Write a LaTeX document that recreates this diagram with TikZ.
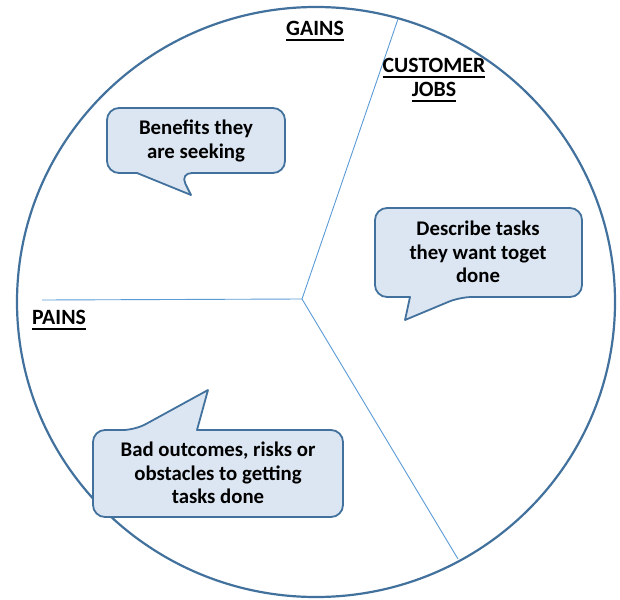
\documentclass[tikz,border=0pt]{standalone}
\usepackage{fontspec}
\setmainfont{Carlito}
\usepackage{xcolor}
\usetikzlibrary{shapes.geometric}

\definecolor{rimblue}{HTML}{41719C}
\definecolor{lineblue}{HTML}{5B9BD5}
\definecolor{bubblefill}{HTML}{DCE6F2}

% underlined heading word
\newcommand{\tabhead}[1]{\setbox0\hbox{#1}\rlap{\rule[-5pt]{\wd0}{1.8pt}}\box0}

\begin{document}
\begin{tikzpicture}[x=1pt, y=-1pt, font=\bfseries\fontsize{20.8}{23.5}\selectfont]
	\tikzstyle{rim} = [draw=rimblue, line width=2.2pt, ellipse, inner sep=0pt]
	\tikzstyle{bubble} = [draw=rimblue, fill=bubblefill, line width=1.8pt, line join=round]
	\tikzstyle{saying} = [align=center, inner sep=0pt]
	\tikzstyle{heading} = [align=center, inner sep=0pt, font=\bfseries\fontsize{21.8}{24}\selectfont]
	\tikzstyle{divider} = [draw=lineblue, line width=0.9pt]

	\useasboundingbox (0, 0) rectangle (620, 599);

	\node[rim, minimum width=598pt, minimum height=590pt]	at (316, 302)	(canvas)	{};

	\coordinate	(hub)		at (302, 299);
	\coordinate	(painsend)	at (42, 300);
	\coordinate	(gainsend)	at (398, 19);
	\coordinate	(jobsend)	at (458, 559);

	\draw[divider] (painsend) -- (hub) -- (gainsend);
	\draw[divider] (hub) -- (jobsend);

	% speech bubbles
	\draw[bubble] (137, 173) [rounded corners=12pt] -- (107, 173) -- (107, 108) -- (285, 108) -- (285, 173) -- (180, 173) [sharp corners] -- (191, 195) -- cycle;
	\draw[bubble] (410, 297) [rounded corners=12pt] -- (375, 297) -- (375, 208) -- (582, 208) -- (582, 297) -- (460, 297) [sharp corners] -- (405, 320) -- cycle;
	\draw[bubble] (197, 430) [rounded corners=12pt] -- (343, 430) -- (343, 517) -- (93, 517) -- (93, 430) -- (135, 430) [sharp corners] -- (208, 390) -- cycle;

	\node[saying]	at (196, 141)	(benefits)	{Benefits they\\are seeking};
	\node[saying]	at (478, 252)	(tasks)		{Describe tasks\\they want toget\\done};
	\node[saying]	at (218, 473)	(obstacles)	{Bad outcomes, risks or\\obstacles to getting\\tasks done};

	\node[heading]	at (315, 31)	(gains)		{\tabhead{GAINS}};
	\node[heading]	at (434, 80)	(jobs)		{\tabhead{CUSTOMER}\\\tabhead{JOBS}};
	\node[heading]	at (59, 320)	(pains)		{\tabhead{PAINS}};
\end{tikzpicture}
\end{document}
